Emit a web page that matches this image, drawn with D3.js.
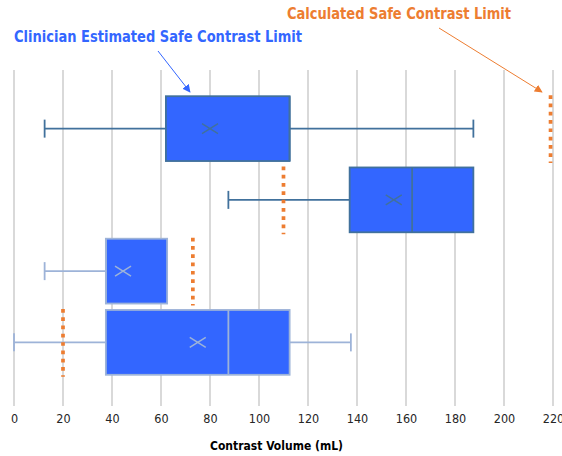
<!doctype html>
<html lang="en">
  <head>
    <meta charset="utf-8">
    <script src="https://cdn.jsdelivr.net/npm/d3@7/dist/d3.min.js"></script>
    <style>
      body {margin:0; background:white}
      svg {display:block}
      text {font-family: "DejaVu Sans Condensed", "DejaVu Sans", sans-serif}
    </style>
    <title>Contrast Volume Box Plot</title>
  </head>
  <body>
    <script>
      // one row per case, top to bottom
      const cases = ["1", "2", "3", "4"];
      const mins = [12.5, 87.5, 12.5, 0];
      const q1s = [62, 137, 37.5, 37.5];
      const medians = [112.5, 162.5, 37.5, 87.5];
      const q3s = [112.5, 187.5, 62.5, 112.5];
      const maxs = [187.5, 187.5, 62.5, 137.5];
      const means = [80, 155, 44.5, 75];
      const calcLimits = [219, 110, 73, 20];
      const xTicks = [0, 20, 40, 60, 80, 100, 120, 140, 160, 180, 200, 220];

      const rows = cases.map((c, i) => ({
        name: c, min: mins[i], q1: q1s[i], med: medians[i],
        q3: q3s[i], max: maxs[i], mean: means[i], limit: calcLimits[i]
      }));

      const w = 562, h = 456;
      const plotTop = 70, plotBottom = 406;
      const blue = "#3366ff", orange = "#ed7d31";
      const strokeCol = ["#41719c", "#41719c", "#9db3d8", "#9db3d8"];

      let x = d3.scaleLinear().domain([0, 220]).range([14, 553]);
      let y = d3.scaleBand().domain(cases).range([93, 378])
        .paddingInner(0.09).paddingOuter(0.045);

      let svg = d3.select("body").append("svg")
        .attr("width", w).attr("height", h);

      // vertical gridlines
      svg.append("g").selectAll("line")
        .data(xTicks).enter().append("line")
        .attr("x1", d => x(d)).attr("x2", d => x(d))
        .attr("y1", plotTop).attr("y2", plotBottom)
        .attr("stroke", "#d9d9d9").attr("stroke-width", 2);

      let xAxis = d3.axisBottom(x).tickValues(xTicks).tickSize(0).tickPadding(8.5);
      let gx = svg.append("g")
        .attr("transform", "translate(0," + plotBottom + ")")
        .call(xAxis);
      gx.select(".domain").remove();
      gx.selectAll("text")
        .attr("font-family", "DejaVu Sans Condensed, DejaVu Sans, sans-serif")
        .attr("font-size", 12.5).attr("fill", "#262626");

      let boxes = svg.append("g").selectAll("g")
        .data(rows).enter().append("g")
        .attr("transform", d => "translate(0," + y(d.name) + ")");

      const bw = y.bandwidth();
      const sc = d => strokeCol[rows.indexOf(d)];

      // whiskers
      boxes.append("line")
        .attr("x1", d => x(d.min)).attr("x2", d => x(d.q1))
        .attr("y1", bw / 2).attr("y2", bw / 2)
        .attr("stroke", sc).attr("stroke-width", 1.8);
      boxes.append("line")
        .attr("x1", d => x(d.q3)).attr("x2", d => x(d.max))
        .attr("y1", bw / 2).attr("y2", bw / 2)
        .attr("stroke", sc).attr("stroke-width", 1.8);
      // caps
      boxes.filter(d => d.min < d.q1).append("line")
        .attr("x1", d => x(d.min)).attr("x2", d => x(d.min))
        .attr("y1", bw / 2 - 9).attr("y2", bw / 2 + 9)
        .attr("stroke", sc).attr("stroke-width", 1.8);
      boxes.filter(d => d.max > d.q3).append("line")
        .attr("x1", d => x(d.max)).attr("x2", d => x(d.max))
        .attr("y1", bw / 2 - 9).attr("y2", bw / 2 + 9)
        .attr("stroke", sc).attr("stroke-width", 1.8);

      // box
      boxes.append("rect")
        .attr("x", d => x(d.q1)).attr("y", 0)
        .attr("width", d => x(d.q3) - x(d.q1)).attr("height", bw)
        .attr("fill", blue)
        .attr("stroke", sc).attr("stroke-width", 1.8);

      // median
      boxes.append("line")
        .attr("x1", d => x(d.med)).attr("x2", d => x(d.med))
        .attr("y1", 0).attr("y2", bw)
        .attr("stroke", sc).attr("stroke-width", 1.8);

      // mean marker
      boxes.append("path")
        .attr("d", d => {
          let cx = x(d.mean), cy = bw / 2;
          return "M" + (cx - 8) + "," + (cy - 5) + "L" + (cx + 8) + "," + (cy + 5) +
                 "M" + (cx - 8) + "," + (cy + 5) + "L" + (cx + 8) + "," + (cy - 5);
        })
        .attr("stroke", sc).attr("stroke-width", 1.5)
        .attr("fill", "none");

      // calculated safe limit
      boxes.append("line")
        .attr("x1", d => x(d.limit)).attr("x2", d => x(d.limit))
        .attr("y1", -1).attr("y2", bw + 2)
        .attr("stroke", orange).attr("stroke-width", 3.7)
        .attr("stroke-dasharray", "3.7,4.6");

      // arrows
      let defs = svg.append("defs");
      [["arrBlue", blue], ["arrOrange", orange]].forEach(a => {
        defs.append("marker")
          .attr("id", a[0]).attr("viewBox", "0 0 10 10")
          .attr("refX", 9).attr("refY", 5)
          .attr("markerWidth", 8).attr("markerHeight", 8)
          .attr("markerUnits", "userSpaceOnUse")
          .attr("orient", "auto")
          .append("path").attr("d", "M0,0L10,5L0,10z").attr("fill", a[1]);
      });

      svg.append("line")
        .attr("x1", 158).attr("y1", 51).attr("x2", 190).attr("y2", 92)
        .attr("stroke", blue).attr("stroke-width", 1)
        .attr("marker-end", "url(#arrBlue)");
      svg.append("line")
        .attr("x1", 439).attr("y1", 28).attr("x2", 542).attr("y2", 92)
        .attr("stroke", orange).attr("stroke-width", 1)
        .attr("marker-end", "url(#arrOrange)");

      svg.append("text")
        .attr("x", 14).attr("y", 42)
        .attr("font-family", "DejaVu Sans, sans-serif")
        .attr("font-size", 16).attr("font-weight", "bold")
        .attr("fill", blue)
        .attr("textLength", 288).attr("lengthAdjust", "spacingAndGlyphs")
        .text("Clinician Estimated Safe Contrast Limit");

      svg.append("text")
        .attr("x", 287).attr("y", 19)
        .attr("font-family", "DejaVu Sans, sans-serif")
        .attr("font-size", 16).attr("font-weight", "bold")
        .attr("fill", orange)
        .attr("textLength", 224).attr("lengthAdjust", "spacingAndGlyphs")
        .text("Calculated Safe Contrast Limit");

      svg.append("text")
        .attr("x", 210).attr("y", 450)
        .attr("font-family", "DejaVu Sans, sans-serif")
        .attr("font-size", 13).attr("font-weight", "bold")
        .attr("fill", "#000")
        .attr("textLength", 133).attr("lengthAdjust", "spacingAndGlyphs")
        .text("Contrast Volume (mL)");
    </script>
  </body>
</html>
